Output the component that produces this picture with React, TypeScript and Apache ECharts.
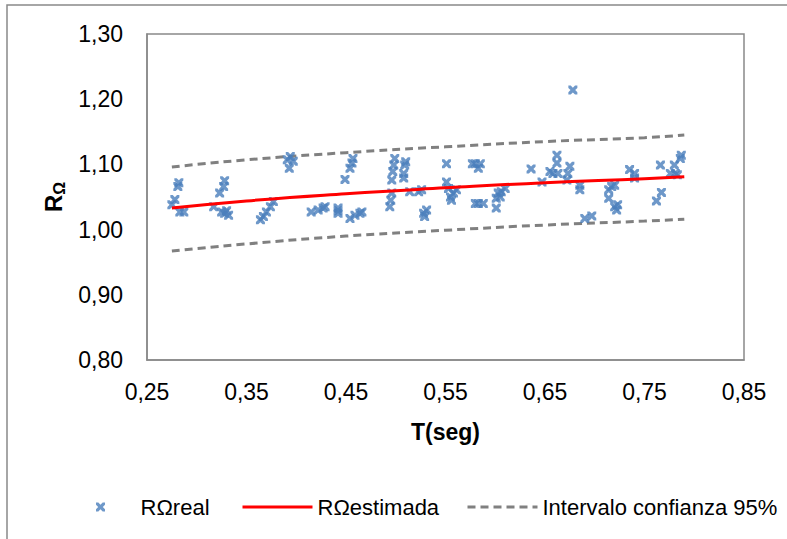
import React, { useEffect, useRef } from "react";
import * as echarts from "echarts";

// Scatter: measured R_omega vs period T
const tReal = [
  0.275, 0.278, 0.281, 0.282, 0.283, 0.287, 0.317, 0.323, 0.327, 0.328, 0.325, 0.328, 0.332, 0.330,
  0.364, 0.367, 0.370, 0.374, 0.377, 0.391, 0.393, 0.394, 0.397, 0.415, 0.422, 0.427, 0.429, 0.442,
  0.442, 0.442, 0.449, 0.454, 0.456, 0.457, 0.454, 0.459, 0.464, 0.466, 0.496, 0.495, 0.494, 0.496,
  0.497, 0.498, 0.499, 0.509, 0.508, 0.508, 0.510, 0.514, 0.523, 0.526, 0.528, 0.531, 0.529, 0.551,
  0.551, 0.553, 0.555, 0.558, 0.561, 0.556, 0.577, 0.580, 0.583, 0.585, 0.580, 0.583, 0.588, 0.601,
  0.601, 0.603, 0.606, 0.610, 0.605, 0.636, 0.647, 0.655, 0.658, 0.662, 0.662, 0.663, 0.673, 0.675,
  0.672, 0.685, 0.685, 0.690, 0.697, 0.714, 0.714, 0.717, 0.720, 0.720, 0.723, 0.722, 0.735, 0.740,
  0.740, 0.762, 0.767, 0.766, 0.776, 0.780, 0.781, 0.783, 0.787, 0.786, 0.678,
];
const rReal = [
  1.038, 1.046, 1.066, 1.072, 1.027, 1.027, 1.035, 1.056, 1.066, 1.075, 1.027, 1.025, 1.022, 1.029,
  1.015, 1.020, 1.027, 1.035, 1.043, 1.107, 1.094, 1.112, 1.105, 1.027, 1.030, 1.033, 1.035, 1.033,
  1.025, 1.029, 1.077, 1.094, 1.102, 1.109, 1.017, 1.022, 1.025, 1.027, 1.056, 1.045, 1.035, 1.076,
  1.089, 1.099, 1.109, 1.099, 1.086, 1.079, 1.104, 1.058, 1.058, 1.061, 1.025, 1.030, 1.020, 1.101,
  1.073, 1.063, 1.050, 1.056, 1.061, 1.045, 1.101, 1.101, 1.094, 1.101, 1.040, 1.040, 1.040, 1.033,
  1.048, 1.056, 1.058, 1.063, 1.050, 1.093, 1.073, 1.089, 1.086, 1.114, 1.102, 1.086, 1.086, 1.097,
  1.076, 1.068, 1.061, 1.017, 1.021, 1.061, 1.048, 1.066, 1.068, 1.035, 1.038, 1.030, 1.092, 1.079,
  1.086, 1.044, 1.057, 1.099, 1.086, 1.099, 1.086, 1.084, 1.114, 1.109, 1.214,
];

// Fitted curve and 95% band
const tFit = [0.275, 0.35, 0.45, 0.55, 0.65, 0.75, 0.79];
const rEstimada = [1.033, 1.044, 1.055, 1.064, 1.072, 1.078, 1.081];
const rUpper = [1.096, 1.107, 1.118, 1.127, 1.135, 1.141, 1.145];
const rLower = [0.967, 0.978, 0.99, 0.999, 1.007, 1.013, 1.016];

const seriesNames = ["RΩreal", "RΩestimada", "Intervalo confianza 95%"];

const FONT = "'Liberation Sans', Arial, sans-serif";
const fmt = (v: number) => v.toFixed(2).replace(".", ",");
const X_PATH =
  "path://M0,0 L2.6,0 L5,2.4 L7.4,0 L10,0 L10,2.6 L7.6,5 L10,7.4 L10,10 L7.4,10 L5,7.6 L2.6,10 L0,10 L0,7.4 L2.4,5 L0,2.6 Z";

export default function App() {
  const ref = useRef<HTMLDivElement>(null);
  useEffect(() => {
    if (!ref.current) return;
    const chart = echarts.init(ref.current, null, { renderer: "svg" });
    const realData = tReal.map((t, i) => [t, rReal[i]]);
    const pair = (arr: number[]) => tFit.map((t, i) => [t, arr[i]]);
    const legendBase = {
      top: 496,
      padding: 0,
      itemWidth: 70,
      itemHeight: 9,
      lineStyle: { width: 3 },
      textStyle: { fontFamily: FONT, fontSize: 22, color: "#000" },
    };
    chart.setOption({
      animation: false,
      backgroundColor: "#ffffff",
      textStyle: { fontFamily: FONT },
      graphic: [
        {
          type: "rect",
          shape: { x: 7, y: 5, width: 900, height: 700 },
          style: { fill: "none", stroke: "#898989", lineWidth: 1.5 },
          silent: true,
          z: -10,
        },
      ],
      grid: {
        left: 147,
        right: 43,
        top: 34,
        bottom: 179,
        show: true,
        borderColor: "#898989",
        borderWidth: 1.5,
      },
      legend: [
        { ...legendBase, left: 96, data: [{ name: seriesNames[0] }] },
        { ...legendBase, left: 241, data: [{ name: seriesNames[1], itemStyle: { opacity: 0 } }] },
        { ...legendBase, left: 466, data: [{ name: seriesNames[2], itemStyle: { opacity: 0 } }] },
      ],
      xAxis: {
        type: "value",
        min: 0.25,
        max: 0.85,
        interval: 0.1,
        name: "T(seg)",
        nameLocation: "middle",
        nameGap: 60,
        nameTextStyle: { fontFamily: FONT, fontSize: 23, fontWeight: "bold", color: "#000" },
        axisLine: { show: true, lineStyle: { color: "#898989", width: 1.5 } },
        axisTick: { show: false },
        splitLine: { show: false },
        axisLabel: {
          formatter: fmt,
          margin: 20,
          fontFamily: FONT,
          fontSize: 23,
          color: "#000",
        },
      },
      yAxis: {
        type: "value",
        min: 0.8,
        max: 1.3,
        interval: 0.1,
        name: "{r|R}{s|Ω}",
        nameLocation: "middle",
        nameGap: 78,
        nameTextStyle: {
          rich: {
            r: { fontFamily: FONT, fontSize: 24, fontWeight: "bold", color: "#000" },
            s: {
              fontFamily: FONT,
              fontSize: 16,
              fontWeight: "bold",
              color: "#000",
              padding: [12, 0, 0, 0],
            },
          },
        },
        axisLine: { show: true, lineStyle: { color: "#898989", width: 1.5 } },
        axisTick: { show: false },
        splitLine: { show: false },
        axisLabel: {
          formatter: fmt,
          margin: 24,
          fontFamily: FONT,
          fontSize: 23,
          color: "#000",
        },
      },
      series: [
        {
          name: seriesNames[0],
          type: "scatter",
          data: realData,
          symbol: X_PATH,
          symbolSize: 9,
          itemStyle: { color: "#4A7EBB" },
          z: 3,
        },
        {
          name: seriesNames[1],
          type: "line",
          data: pair(rEstimada),
          smooth: true,
          showSymbol: false,
          symbol: "none",
          lineStyle: { color: "#FF0000", width: 3 },
          itemStyle: { color: "#FF0000" },
          z: 4,
        },
        {
          name: seriesNames[2],
          type: "line",
          data: pair(rUpper),
          smooth: true,
          showSymbol: false,
          symbol: "none",
          lineStyle: { color: "#808080", width: 3, type: [8, 5] },
          itemStyle: { color: "#808080" },
          z: 2,
        },
        {
          name: seriesNames[2],
          type: "line",
          data: pair(rLower),
          smooth: true,
          showSymbol: false,
          symbol: "none",
          lineStyle: { color: "#808080", width: 3, type: [8, 5] },
          itemStyle: { color: "#808080" },
          z: 2,
        },
      ],
    });
    return () => chart.dispose();
  }, []);
  return (
    <div
      ref={ref}
      style={{ position: "fixed", left: 0, top: 0, width: 787, height: 539 }}
    />
  );
}
